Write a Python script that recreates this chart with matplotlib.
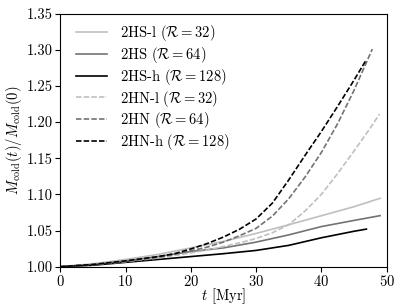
import matplotlib
matplotlib.use("Agg")
import matplotlib.pyplot as plt

plt.rcParams['font.family'] = 'serif'
plt.rcParams['font.serif'] = ['cmr10', 'DejaVu Serif']
plt.rcParams['mathtext.fontset'] = 'cm'
plt.rcParams['axes.formatter.use_mathtext'] = True
plt.rcParams['font.size'] = 10.5

t_hs_l = [0, 5, 10, 15, 20, 25, 30, 35, 40, 45, 49]
m_hs_l = [1.000, 1.004, 1.010, 1.017, 1.026, 1.035, 1.046, 1.058, 1.0705, 1.083, 1.0946]

t_hs = [0, 5, 10, 15, 20, 25, 30, 35, 40, 45, 49]
m_hs = [1.000, 1.003, 1.008, 1.014, 1.021, 1.026, 1.034, 1.044, 1.0555, 1.064, 1.0706]

t_hs_h = [0, 5, 10, 15, 20, 25, 30, 35, 40, 45, 46.9]
m_hs_h = [1.000, 1.002, 1.006, 1.010, 1.014, 1.018, 1.0225, 1.0295, 1.040, 1.049, 1.052]

t_hn_l = [0, 5, 10, 15, 20, 22.5, 25, 27.5, 30, 32.5, 35, 37.5, 40, 42.5, 45, 47.5, 48.9]
m_hn_l = [1.000, 1.003, 1.007, 1.012, 1.019, 1.023, 1.028, 1.033, 1.039, 1.047, 1.058,
          1.077, 1.100, 1.129, 1.160, 1.192, 1.211]

t_hn = [0, 5, 10, 15, 17.5, 20, 22.5, 25, 27.5, 30, 32.5, 35, 37.5, 40, 42.5, 45, 47.8]
m_hn = [1.000, 1.003, 1.007, 1.013, 1.017, 1.022, 1.027, 1.034, 1.043, 1.053, 1.070,
        1.094, 1.124, 1.158, 1.198, 1.244, 1.301]

t_hn_h = [0, 5, 10, 15, 17.5, 20, 22.5, 25, 27.5, 30, 32.5, 35, 37.5, 40, 42.5, 45, 46.8]
m_hn_h = [1.000, 1.003, 1.008, 1.014, 1.018, 1.0245, 1.032, 1.041, 1.052, 1.066, 1.088,
          1.120, 1.154, 1.187, 1.222, 1.258, 1.285]

labels = [r'2HS-l ($\mathcal{R}=32$)', r'2HS ($\mathcal{R}=64$)', r'2HS-h ($\mathcal{R}=128$)',
          r'2HN-l ($\mathcal{R}=32$)', r'2HN ($\mathcal{R}=64$)', r'2HN-h ($\mathcal{R}=128$)']

fig = plt.figure(figsize=(4.07, 3.05), dpi=100)
ax = fig.add_axes([0.148, 0.1256, 0.802, 0.8295])

lw = 1.2
dash = (3.3, 1.3)
ax.plot(t_hs_l, m_hs_l, color='0.75', lw=lw, label=labels[0])
ax.plot(t_hs, m_hs, color='0.45', lw=lw, label=labels[1])
ax.plot(t_hs_h, m_hs_h, color='k', lw=lw, label=labels[2])
ax.plot(t_hn_l, m_hn_l, color='0.75', lw=lw, ls='--', dashes=dash, label=labels[3])
ax.plot(t_hn, m_hn, color='0.45', lw=lw, ls='--', dashes=dash, label=labels[4])
ax.plot(t_hn_h, m_hn_h, color='k', lw=lw, ls='--', dashes=dash, label=labels[5])

ax.set_xlim(0, 50)
ax.set_ylim(1.0, 1.35)
ax.set_xticks([0, 10, 20, 30, 40, 50])
ax.set_yticks([1.00, 1.05, 1.10, 1.15, 1.20, 1.25, 1.30, 1.35])
ax.set_yticklabels(['1.00', '1.05', '1.10', '1.15', '1.20', '1.25', '1.30', '1.35'])
ax.tick_params(pad=2)
ax.set_xlabel(r'$t$ [Myr]', labelpad=-2)
ax.set_ylabel(r'$M_{\rm cold}(t)/M_{\rm cold}(0)$', labelpad=2)

ax.legend(loc='upper left', bbox_to_anchor=(0.008, 1.014), frameon=False,
          handlelength=2.1, labelspacing=0.12, borderaxespad=0.5, handletextpad=0.9)

fig.savefig('out.png', dpi=100)
